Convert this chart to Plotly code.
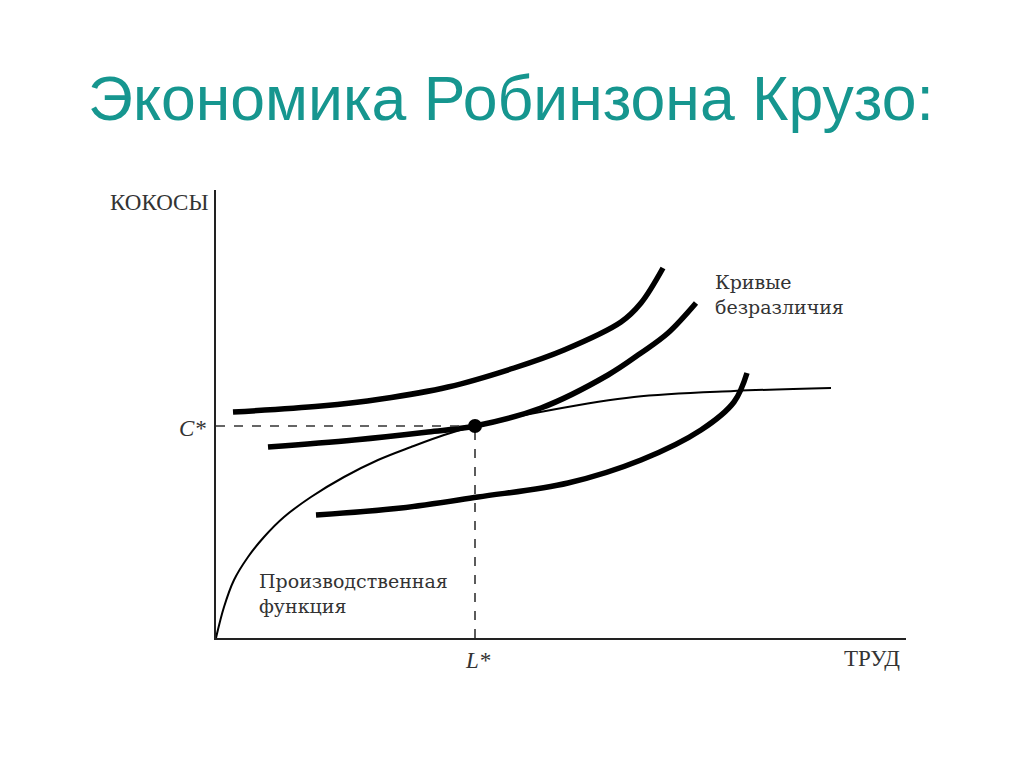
import plotly.graph_objects as go

# production function (labour -> coconuts)
prod_x = [0, 0.8, 1.8, 3.2, 4.8, 6.8, 9.5, 12.8, 16.2, 19.5, 22.8, 25.9, 33.5, 41.8, 51.8, 61.5]
prod_y = [0, 3.1, 5.8, 8.1, 10.1, 12.1, 14.1, 16.1, 17.8, 19.1, 20.3, 21.2, 22.8, 24.1, 24.7, 25.0]

# indifference curves
ic1_x = [1.7, 10.5, 16.5, 23.2, 29.8, 34.8, 40.5, 42.5, 44.7]
ic1_y = [22.6, 23.2, 23.9, 25.1, 27.0, 28.8, 31.6, 33.5, 37.0]
ic2_x = [5.2, 13.8, 21.2, 25.9, 32.5, 39.2, 42.5, 45.2, 48.0]
ic2_y = [19.1, 19.8, 20.6, 21.2, 23.0, 26.3, 28.5, 30.5, 33.5]
ic3_x = [10.0, 18.5, 26.2, 35.2, 42.5, 48.5, 51.8, 53.1]
ic3_y = [12.3, 13.0, 14.1, 15.5, 17.8, 20.8, 23.6, 26.5]

# optimum
L_star = 25.9
C_star = 21.2

fig = go.Figure()

for xs, ys in [(ic1_x, ic1_y), (ic2_x, ic2_y), (ic3_x, ic3_y)]:
    fig.add_trace(go.Scatter(x=xs, y=ys, mode="lines",
                             line=dict(color="black", width=5.5, shape="spline", smoothing=1),
                             hoverinfo="skip"))

fig.add_trace(go.Scatter(x=prod_x, y=prod_y, mode="lines",
                         line=dict(color="black", width=2, shape="spline", smoothing=1),
                         hoverinfo="skip"))

# dashed guides to the axes
fig.add_trace(go.Scatter(x=[0, L_star], y=[C_star, C_star], mode="lines",
                         line=dict(color="#333", width=1.6, dash="dash"), hoverinfo="skip"))
fig.add_trace(go.Scatter(x=[L_star, L_star], y=[0, C_star], mode="lines",
                         line=dict(color="#333", width=1.6, dash="dash"), hoverinfo="skip"))

fig.add_trace(go.Scatter(x=[L_star], y=[C_star], mode="markers",
                         marker=dict(color="black", size=14), hoverinfo="skip"))

serif = "Liberation Serif, Times New Roman, serif"
wide_serif = "DejaVu Serif, serif"
txt = "#333333"


# plot frame on the page: left 215, right 905, top 190, bottom 638
def px(x, y):
    return (x - 215) / 690, (638 - y) / 448


def label(x, y, text, xanchor, size, family=serif):
    px_x, px_y = px(x, y)
    return dict(x=px_x, y=px_y, xref="paper", yref="paper", text=text,
                xanchor=xanchor, yanchor="middle", showarrow=False, align="left",
                font=dict(family=family, size=size, color=txt))


annos = [
    label(209, 203, "КОКОСЫ", "right", 23),
    label(901, 658, "ТРУД", "right", 23),
    label(207, 428, "<i>C*</i>", "right", 23),
    label(477, 660, "<i>L*</i>", "center", 23),
    label(712, 294, "Кривые<br>безразличия", "left", 19, wide_serif),
    label(256, 593, "Производственная<br>функция", "left", 19, wide_serif),
]

fig.update_layout(
    width=1024, height=767,
    paper_bgcolor="white", plot_bgcolor="white",
    showlegend=False,
    margin=dict(l=208, r=126, t=182, b=137),
    title=dict(text="Экономика Робинзона Крузо:",
               font=dict(family="Liberation Sans, Arial, sans-serif", size=62.5, color="#16968f"),
               x=80 / 1024, xanchor="left", xref="container",
               y=1 - 90 / 767, yanchor="middle", yref="container"),
    annotations=annos,
    xaxis=dict(range=[0, 69], showgrid=False, zeroline=False, showticklabels=False,
               ticks="", showline=True, linecolor="#222", linewidth=2),
    yaxis=dict(range=[0, 44.8], showgrid=False, zeroline=False, showticklabels=False,
               ticks="", showline=True, linecolor="#222", linewidth=2),
)

fig.write_html("out.html")
